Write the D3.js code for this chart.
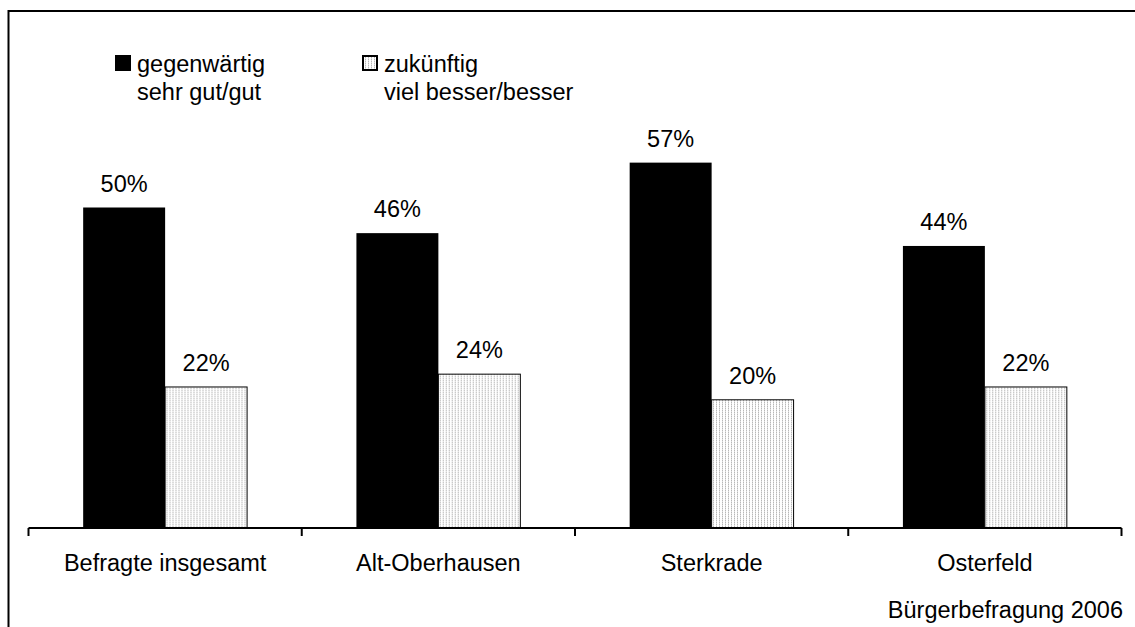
<!DOCTYPE html>
<html>
<head>
<meta charset="utf-8">
<script src="https://cdn.jsdelivr.net/npm/d3@7"></script>
<style>
  body { margin: 0; background: #fff; }
  text { font-family: "Liberation Sans", Arial, sans-serif; fill: #000; }
</style>
</head>
<body>
<script>
const w = 1135;
const h = 627;

const categories = ["Befragte insgesamt", "Alt-Oberhausen", "Sterkrade", "Osterfeld"];
const series = ["gegenwärtig", "zukünftig"];
const gegenwaertig = [50, 46, 57, 44];
const zukuenftig = [22, 24, 20, 22];
const legendLines = [
  ["gegenwärtig", "sehr gut/gut"],
  ["zukünftig", "viel besser/besser"]
];
const source = "Bürgerbefragung 2006";

const svg = d3.select("body").append("svg").attr("width", w).attr("height", h);

// stripe pattern for the second series
const defs = svg.append("defs");
const pat = defs
  .append("pattern")
  .attr("id", "stripes")
  .attr("patternUnits", "userSpaceOnUse")
  .attr("width", 3)
  .attr("height", 2);
pat.append("rect").attr("width", 3).attr("height", 2).attr("fill", "#fff");
pat.append("rect").attr("x", 0).attr("y", 0).attr("width", 1).attr("height", 1).attr("fill", "#b8b8b8");
pat.append("rect").attr("x", 0).attr("y", 1).attr("width", 1).attr("height", 1).attr("fill", "#dedede");

const fills = ["#000", "url(#stripes)"];

// frame (open to the right and bottom)
svg
  .append("path")
  .attr("d", `M8.5,${h} V11 H${w}`)
  .attr("fill", "none")
  .attr("stroke", "#000")
  .attr("stroke-width", 2);

const x0 = d3.scaleBand().domain(categories).range([28.5, 1121.5]).paddingInner(0).paddingOuter(0);
const x1 = d3.scaleBand().domain(series).range([0, x0.bandwidth()]).paddingInner(0).paddingOuter(0.667);
const y = d3.scaleLinear().domain([0, 60]).range([528, 143.4]);

const rows = categories.map((c, i) => ({ cat: c, vals: [gegenwaertig[i], zukuenftig[i]] }));

const groups = svg
  .selectAll("g.cat")
  .data(rows)
  .enter()
  .append("g")
  .attr("class", "cat")
  .attr("transform", (d) => `translate(${x0(d.cat)},0)`);

groups
  .selectAll("rect")
  .data((d) => d.vals.map((v, j) => ({ s: series[j], v: v, j: j })))
  .enter()
  .append("rect")
  .attr("x", (d) => x1(d.s))
  .attr("y", (d) => y(d.v))
  .attr("width", x1.bandwidth())
  .attr("height", (d) => y(0) - y(d.v))
  .attr("fill", (d) => fills[d.j])
  .attr("stroke", (d) => (d.j === 1 ? "#000" : "none"))
  .attr("stroke-width", 1);

groups
  .selectAll("text.val")
  .data((d) => d.vals.map((v, j) => ({ s: series[j], v: v })))
  .enter()
  .append("text")
  .attr("class", "val")
  .attr("x", (d) => x1(d.s) + x1.bandwidth() / 2)
  .attr("y", (d) => y(d.v) - 16)
  .attr("text-anchor", "middle")
  .style("font-size", "23.5px")
  .text((d) => d.v + "%");

// x-axis
const xAxis = d3.axisBottom(x0).tickSize(0).tickPadding(0);
const xAG = svg.append("g").attr("transform", `translate(0,${y(0)})`).call(xAxis);
xAG.select(".domain").remove();
xAG.selectAll("text").attr("y", 43).attr("dy", null).style("font-size", "23.5px").style("font-family", null);

const tickXs = categories.map((c) => x0(c)).concat([x0.range()[1]]);
svg
  .append("line")
  .attr("x1", tickXs[0])
  .attr("x2", tickXs[tickXs.length - 1])
  .attr("y1", y(0))
  .attr("y2", y(0))
  .attr("stroke", "#000")
  .attr("stroke-width", 2);
svg
  .selectAll("line.tick")
  .data(tickXs)
  .enter()
  .append("line")
  .attr("class", "tick")
  .attr("x1", (d) => d)
  .attr("x2", (d) => d)
  .attr("y1", y(0))
  .attr("y2", y(0) + 8)
  .attr("stroke", "#000")
  .attr("stroke-width", 2);

// legend
const legX = [115, 362];
const leg = svg
  .selectAll("g.leg")
  .data(legendLines)
  .enter()
  .append("g")
  .attr("class", "leg")
  .attr("transform", (d, i) => `translate(${legX[i]},55)`);
leg
  .append("rect")
  .attr("x", (d, i) => (i === 0 ? 0 : 1))
  .attr("y", (d, i) => (i === 0 ? 0 : 1))
  .attr("width", (d, i) => (i === 0 ? 16 : 14))
  .attr("height", (d, i) => (i === 0 ? 16 : 14))
  .attr("fill", (d, i) => fills[i])
  .attr("stroke", (d, i) => (i === 1 ? "#000" : "none"))
  .attr("stroke-width", 2);
leg
  .selectAll("text")
  .data((d) => d)
  .enter()
  .append("text")
  .attr("x", 22)
  .attr("y", (d, k) => 17 + k * 28)
  .style("font-size", "23.5px")
  .text((d) => d);

// source note
svg
  .append("text")
  .attr("x", 1123)
  .attr("y", 618)
  .attr("text-anchor", "end")
  .style("font-size", "23.5px")
  .text(source);
</script>
</body>
</html>
